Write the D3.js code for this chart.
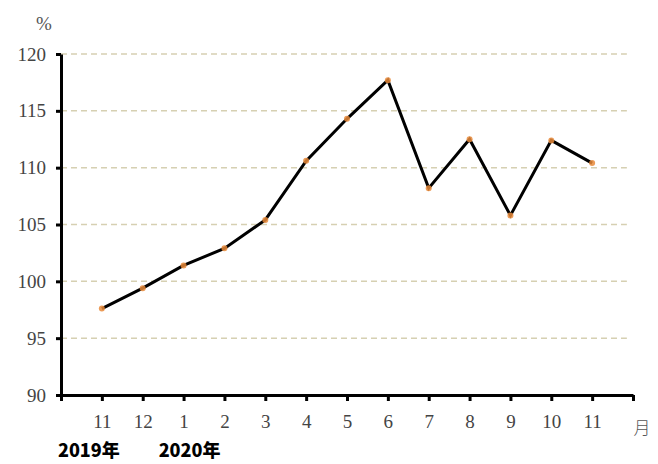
<!DOCTYPE html>
<html>
<head>
<meta charset="utf-8">
<script src="https://cdn.jsdelivr.net/npm/d3@7"></script>
<style>
  body { margin: 0; background: #fff; }
  .serif { font-family: "Times New Roman", "Liberation Serif", "DejaVu Serif", serif; }
</style>
</head>
<body>
<div id="chart"></div>
<script>
// month labels, positioned at 1..13 on the x scale
const months = ['11', '12', '1', '2', '3', '4', '5', '6', '7', '8', '9', '10', '11']
const values = [97.6, 99.4, 101.4, 102.9, 105.4, 110.6, 114.3, 117.7, 108.2, 112.5, 105.8, 112.4, 110.4]
const yTicks = [90, 95, 100, 105, 110, 115, 120]
// year labels and the month position (1-based) they sit under
const yearLabels = ['2019年', '2020年']
const yearAt = [1, 3]

const width = 658
const height = 464
const margin = { left: 61, top: 54, right: 25, bottom: 69 }

const svg = d3.select('#chart').append('svg')
  .attr('width', width)
  .attr('height', height)

const x = d3.scaleLinear()
  .domain([0, months.length + 1])
  .range([margin.left, width - margin.right])

const y = d3.scaleLinear()
  .domain([90, 120])
  .range([height - margin.bottom, margin.top])

// dashed grid lines
svg.append('g')
  .selectAll('line')
  .data(yTicks.filter(d => d > 90))
  .join('line')
  .attr('x1', x(0))
  .attr('x2', x(months.length + 0.85))
  .attr('y1', d => y(d))
  .attr('y2', d => y(d))
  .attr('stroke', '#d6d0b2')
  .attr('stroke-width', 1.5)
  .attr('stroke-dasharray', '6 4')

// y axis
const yAxis = svg.append('g')
  .attr('transform', `translate(${margin.left}, 0)`)
  .call(d3.axisLeft(y).tickValues(yTicks).tickSize(5).tickSizeOuter(0).tickPadding(10))
  .attr('font-family', null)

yAxis.select('.domain').attr('stroke', '#000').attr('stroke-width', 3)
yAxis.selectAll('.tick line').attr('stroke', '#000').attr('stroke-width', 3)
yAxis.selectAll('.tick text')
  .attr('class', 'serif')
  .attr('fill', '#444')
  .attr('font-size', 19)

// x axis
const xAxis = svg.append('g')
  .attr('transform', `translate(0, ${height - margin.bottom})`)
  .call(d3.axisBottom(x)
    .tickValues(d3.range(0, months.length + 2))
    .tickSize(6)
    .tickSizeOuter(0)
    .tickPadding(14)
    .tickFormat(i => (i >= 1 && i <= months.length) ? months[i - 1] : ''))
  .attr('font-family', null)

xAxis.select('.domain').attr('stroke', '#000').attr('stroke-width', 3)
xAxis.selectAll('.tick line').attr('stroke', '#000').attr('stroke-width', 3)
xAxis.selectAll('.tick text')
  .attr('class', 'serif')
  .attr('fill', '#444')
  .attr('font-size', 19)

// unit labels
svg.append('text')
  .attr('class', 'serif')
  .attr('x', 44)
  .attr('y', 30)
  .attr('text-anchor', 'middle')
  .attr('fill', '#555')
  .attr('font-size', 19)
  .text('%')

svg.append('text')
  .attr('x', 642)
  .attr('y', 434)
  .attr('text-anchor', 'middle')
  .attr('fill', '#555')
  .attr('font-family', 'Noto Sans CJK SC')
  .attr('font-weight', 300)
  .attr('font-size', 17)
  .text('月')

// year labels under the months
svg.append('g')
  .selectAll('text')
  .data(yearLabels)
  .join('text')
  .attr('x', (d, i) => x(yearAt[i]) - 13 + i * 19)
  .attr('y', 457)
  .attr('text-anchor', 'middle')
  .attr('fill', '#000')
  .attr('font-family', 'Noto Sans CJK SC')
  .attr('font-weight', 900)
  .attr('font-size', 18)
  .text(d => d)

// line
const line = d3.line()
  .x((d, i) => x(i + 1))
  .y(d => y(d))

svg.append('path')
  .datum(values)
  .attr('d', line)
  .attr('fill', 'none')
  .attr('stroke', '#000')
  .attr('stroke-width', 3)
  .attr('stroke-linejoin', 'miter')

svg.append('g')
  .selectAll('circle')
  .data(values)
  .join('circle')
  .attr('cx', (d, i) => x(i + 1))
  .attr('cy', d => y(d))
  .attr('r', 3)
  .attr('fill', '#e8893a')
  .attr('opacity', 0.85)
</script>
</body>
</html>
